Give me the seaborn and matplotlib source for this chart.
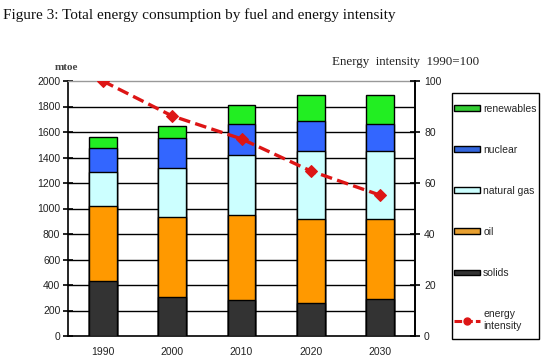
import numpy as np
import pandas as pd
import matplotlib
matplotlib.use("Agg")
import matplotlib.pyplot as plt
from matplotlib.patches import Patch, Rectangle
from matplotlib.lines import Line2D
from matplotlib.ticker import FixedLocator
import seaborn as sns

years = ["1990", "2000", "2010", "2020", "2030"]
solids = [430, 305, 285, 260, 293]
oil = [592, 630, 665, 660, 624]
natural_gas = [262, 380, 467, 534, 537]
nuclear = [193, 235, 246, 232, 206]
renewables = [80, 100, 152, 202, 233]
energy_intensity = [100, 86.3, 77.3, 64.7, 55.2]

fuel_names = ["solids", "oil", "natural gas", "nuclear", "renewables"]
fuel_values = [solids, oil, natural_gas, nuclear, renewables]
fuel_colors = ["#333333", "#FF9900", "#CCFFFF", "#3366FF", "#22EE22"]
legend_colors = ["#333333", "#E8A030", "#CCFFFF", "#3366DD", "#33CC33"]

sns.set_style("white")
plt.rcParams["font.family"] = ["Liberation Sans", "DejaVu Sans"]

fig = plt.figure(figsize=(5.5, 3.63), dpi=100)
ax = fig.add_axes([68 / 550, 1 - 336 / 363, (415 - 68) / 550, (336 - 81) / 363])

cum = np.cumsum(np.array(fuel_values), axis=0)
# draw cumulative totals from top layer down so each layer overlays the previous
for i in range(len(fuel_names) - 1, -1, -1):
    df = pd.DataFrame({"year": years, "value": cum[i]})
    sns.barplot(data=df, x="year", y="value", color=fuel_colors[i], saturation=1,
                width=0.4, edgecolor="black", linewidth=1.0, ax=ax, zorder=3)

ax.set_ylim(0, 2000)
ax.set_xlim(-0.5, 4.5)
ax.set_yticks(np.arange(0, 2001, 200))
for y in range(200, 2000, 200):
    ax.axhline(y, color="black", lw=1.0, zorder=1)
ax.set_xlabel("")
ax.set_ylabel("")
for s in ["left", "bottom", "right"]:
    ax.spines[s].set_color("black")
    ax.spines[s].set_linewidth(1.2)
ax.spines["top"].set_color("#999999")
ax.spines["top"].set_linewidth(1.0)
ax.tick_params(axis="y", direction="inout", length=7, width=1.2, colors="black",
               labelcolor="#222222", labelsize=7.5, pad=2)
ax.tick_params(axis="x", which="major", length=0, labelsize=7.5, labelcolor="#222222", pad=8)
ax.xaxis.set_minor_locator(FixedLocator(np.arange(-0.5, 5, 1.0)))
ax.tick_params(axis="x", which="minor", direction="out", length=4, width=1.2, color="black")

ax2 = ax.twinx()
dfl = pd.DataFrame({"x": np.arange(len(years)), "v": energy_intensity})
sns.lineplot(data=dfl, x="x", y="v", ax=ax2, color="#DD1515", lw=2.4,
             marker="D", markersize=6, markeredgecolor="#DD1515",
             dashes=False, zorder=5)
ax2.lines[0].set_dashes((3.5, 1.6))
ax2.set_ylim(0, 100)
ax2.set_xlim(-0.5, 4.5)
ax2.set_yticks(np.arange(0, 101, 20))
ax2.set_xlabel("")
ax2.set_ylabel("")
for s in ["left", "bottom", "top"]:
    ax2.spines[s].set_visible(False)
ax2.spines["right"].set_color("black")
ax2.spines["right"].set_linewidth(1.2)
ax2.tick_params(axis="y", direction="inout", length=7, width=1.2, colors="black",
                labelcolor="#222222", labelsize=7.5, pad=3)

fig.text(3 / 550, 1 - 15 / 363, "Figure 3: Total energy consumption by fuel and energy intensity",
         family=["Liberation Serif"], fontsize=11, color="#111111", va="center", ha="left")
fig.text(66 / 550, 1 - 68 / 363, "mtoe", family=["Liberation Serif"], fontsize=8,
         fontweight="bold", color="#444444", va="center", ha="center")
fig.text(332 / 550, 1 - 62 / 363, "Energy  intensity  1990=100", family=["Liberation Serif"],
         fontsize=9.4, color="#222222", va="center", ha="left")

# legend frame
fig.patches.append(Rectangle((452 / 550, 1 - 339 / 363), (539 - 452) / 550, (339 - 93) / 363,
                             transform=fig.transFigure, facecolor="white",
                             edgecolor="black", linewidth=1.0, zorder=0))

handles = [Patch(facecolor=legend_colors[i], edgecolor="black", linewidth=1.0)
           for i in range(len(fuel_names) - 1, -1, -1)]
labels = [fuel_names[i] for i in range(len(fuel_names) - 1, -1, -1)]
handles.append(Line2D([0], [0], color="#DD1515", lw=2.2, dashes=(2.5, 1),
                      marker="o", markersize=5))
labels.append("energy\nintensity")
leg = fig.legend(handles, labels, loc="upper left",
                 bbox_to_anchor=(454 / 550, 1 - 104 / 363), fontsize=7.5,
                 frameon=False, handlelength=2.5, handleheight=0.5, handletextpad=0.3,
                 labelspacing=2.98, borderpad=0, borderaxespad=0)

fig.savefig("out.png", dpi=100, facecolor="white")
